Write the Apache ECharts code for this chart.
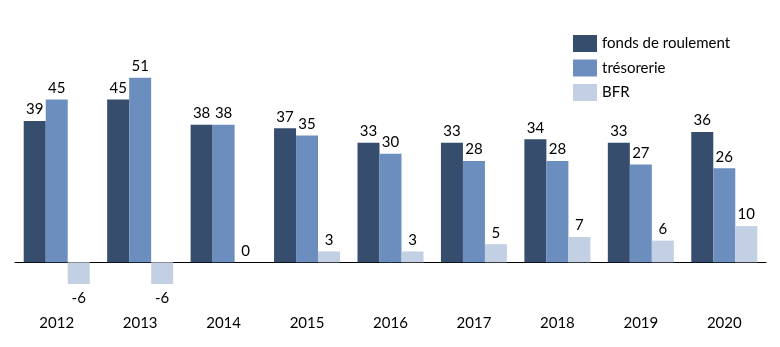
<!DOCTYPE html>
<html><head><meta charset="utf-8">
<script src="https://cdn.jsdelivr.net/npm/echarts@6/dist/echarts.min.js"></script>
<style>html,body{margin:0;padding:0;background:#fff}#c{width:780px;height:347px}</style>
</head><body><div id="c"></div>
<script>
const categories = ['2012','2013','2014','2015','2016','2017','2018','2019','2020'];
const fondsDeRoulement = [39,45,38,37,33,33,34,33,36];
const tresorerie = [45,51,38,35,30,28,28,27,26];
const bfr = [-6,-6,0,3,3,5,7,6,10];
const seriesNames = ['fonds de roulement','trésorerie','BFR'];
const colors = ['#364D6E','#6C8EBF','#C3CFE2'];
const FONT = 'Lato';

function mk(name, data, color) {
  return {
    name, type: 'bar', barWidth: 22, barGap: 0,
    itemStyle: { color },
    data: data.map(v => ({
      value: v,
      label: { position: v < 0 ? 'bottom' : 'top', distance: v < 0 ? 7 : 4 }
    })),
    label: { show: true, color: '#000', fontFamily: FONT, fontSize: 15 }
  };
}
const chart = echarts.init(document.getElementById('c'));
chart.setOption({
  animation: false,
  textStyle: { fontFamily: FONT },
  grid: { left: 15, right: 14, top: 63.2, bottom: 48.5, containLabel: false, outerBoundsMode: 'none' },
  legend: {
    orient: 'vertical', left: 568, top: 30, itemWidth: 24, itemHeight: 17, itemGap: 7.5,
    icon: 'rect', textStyle: { fontFamily: FONT, fontSize: 15, color: '#000' },
    data: seriesNames
  },
  xAxis: {
    type: 'category', data: categories,
    axisLine: { onZero: true, lineStyle: { color: '#000', width: 1 } },
    axisTick: { show: false },
    axisLabel: { margin: 17, color: '#000', fontFamily: FONT, fontSize: 15 }
  },
  yAxis: { type: 'value', min: -10, max: 55, show: false, splitLine: { show: false } },
  series: [
    mk(seriesNames[0], fondsDeRoulement, colors[0]),
    mk(seriesNames[1], tresorerie, colors[1]),
    mk(seriesNames[2], bfr, colors[2])
  ]
});
</script></body></html>
